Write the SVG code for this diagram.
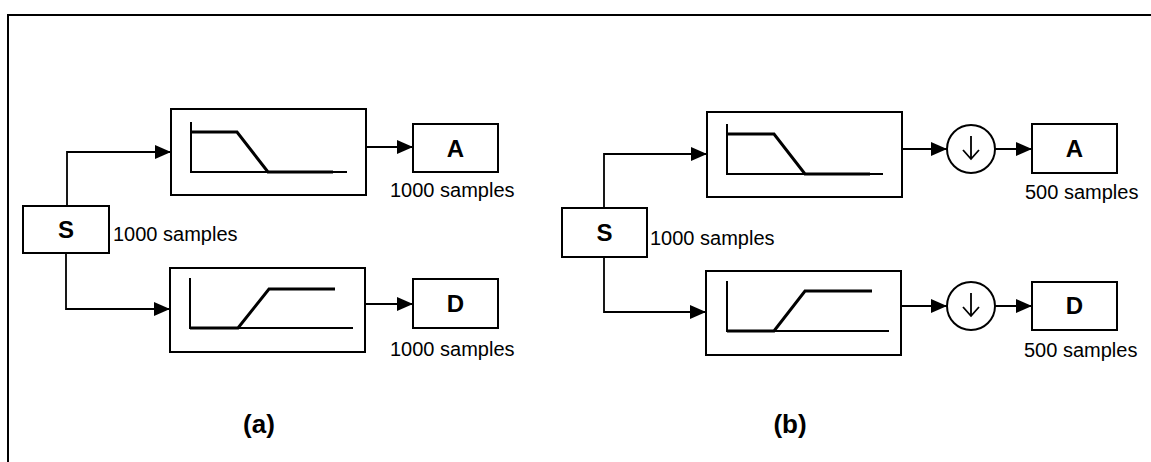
<svg xmlns="http://www.w3.org/2000/svg" width="1151" height="462" viewBox="0 0 1151 462">
<defs>
<marker id="arr" markerUnits="userSpaceOnUse" markerWidth="18" markerHeight="16" refX="16" refY="7" orient="auto">
<path d="M0,0 L16,7 L0,14 Z" fill="#000"/>
</marker>
<style>
.box{fill:#fff;stroke:#000;stroke-width:2}
.ax{fill:none;stroke:#000;stroke-width:2}
.cv{fill:none;stroke:#000;stroke-width:3;stroke-linejoin:miter}
.ln{fill:none;stroke:#000;stroke-width:1.8}
.big{font-family:"Liberation Sans",Arial,sans-serif;font-weight:bold;font-size:24px;text-anchor:middle}
.lbl{font-family:"Liberation Sans",Arial,sans-serif;font-size:20px}
.cap{font-family:"Liberation Sans",Arial,sans-serif;font-weight:bold;font-size:26px;text-anchor:middle}
</style>
</defs>
<rect width="1151" height="462" fill="#fff"/>
<path d="M8,462 L8,15 L1151,15" fill="none" stroke="#000" stroke-width="2"/>

<g id="connectors">
<path class="ln" d="M67,206 L67,152 L171,152" marker-end="url(#arr)"/>
<path class="ln" d="M66,253 L66,309 L170,309" marker-end="url(#arr)"/>
<path class="ln" d="M366,147 L413,147" marker-end="url(#arr)"/>
<path class="ln" d="M365,304 L413,304" marker-end="url(#arr)"/>
<path class="ln" d="M604,208 L604,154 L707,154" marker-end="url(#arr)"/>
<path class="ln" d="M604,257 L604,312 L706,312" marker-end="url(#arr)"/>
<path class="ln" d="M902,149 L947,149" marker-end="url(#arr)"/>
<path class="ln" d="M995,149 L1032,149" marker-end="url(#arr)"/>
<path class="ln" d="M901,306 L947,306" marker-end="url(#arr)"/>
<path class="ln" d="M995,306 L1032,306" marker-end="url(#arr)"/>
</g>

<g id="a-S">
<rect class="box" x="23" y="206" width="86" height="47"/>
<text class="big" x="66" y="238">S</text>
<text class="lbl" x="113" y="241">1000 samples</text>
</g>
<g id="a-lowpass">
<rect class="box" x="171" y="109" width="195" height="86"/>
<path class="ax" d="M191,122 L191,172 L347,172"/>
<path class="cv" d="M191,132 L237,132 L268,172 L333,172"/>
</g>
<g id="a-highpass">
<rect class="box" x="170" y="268" width="195" height="84"/>
<path class="ax" d="M190,278 L190,328 L353,328"/>
<path class="cv" d="M190,328 L238,328 L269,289 L335,289"/>
</g>
<g id="a-A">
<rect class="box" x="413" y="124" width="85" height="48"/>
<text class="big" x="455.5" y="157">A</text>
<text class="lbl" x="390" y="197">1000 samples</text>
</g>
<g id="a-D">
<rect class="box" x="413" y="279" width="85" height="49"/>
<text class="big" x="455.5" y="312">D</text>
<text class="lbl" x="390" y="356">1000 samples</text>
</g>
<text class="cap" x="259" y="433">(a)</text>

<g id="b-S">
<rect class="box" x="562" y="208" width="85" height="49"/>
<text class="big" x="604.5" y="241">S</text>
<text class="lbl" x="650" y="245">1000 samples</text>
</g>
<g id="b-lowpass">
<rect class="box" x="707" y="112" width="195" height="85"/>
<path class="ax" d="M727,124 L727,174 L883,174"/>
<path class="cv" d="M727,134 L774,134 L805,174 L870,174"/>
</g>
<g id="b-highpass">
<rect class="box" x="706" y="271" width="195" height="84"/>
<path class="ax" d="M727,281 L727,331 L889,331"/>
<path class="cv" d="M727,331 L774,331 L805,291 L872,291"/>
</g>
<g id="b-down1">
<circle class="box" cx="971" cy="149" r="24"/>
<path class="ln" d="M971,136 L971,159 M963,150 L971,159 L979,150"/>
</g>
<g id="b-down2">
<circle class="box" cx="971" cy="306" r="24"/>
<path class="ln" d="M971,293 L971,316 M963,307 L971,316 L979,307"/>
</g>
<g id="b-A">
<rect class="box" x="1032" y="124" width="85" height="49"/>
<text class="big" x="1074.5" y="157">A</text>
<text class="lbl" x="1025" y="199">500 samples</text>
</g>
<g id="b-D">
<rect class="box" x="1032" y="282" width="85" height="48"/>
<text class="big" x="1074.5" y="314">D</text>
<text class="lbl" x="1024" y="357">500 samples</text>
</g>
<text class="cap" x="790" y="433">(b)</text>
</svg>
